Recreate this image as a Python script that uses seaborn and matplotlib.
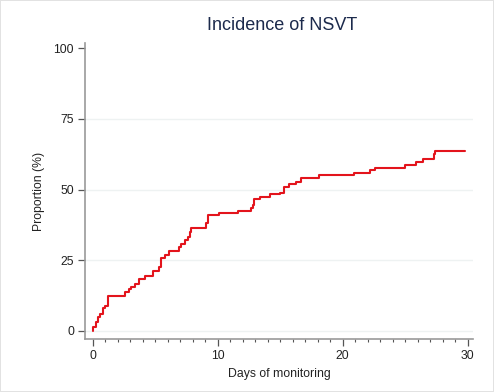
import matplotlib
matplotlib.use("Agg")
import matplotlib.pyplot as plt
from matplotlib.ticker import MultipleLocator
import seaborn as sns
import pandas as pd

# Kaplan-Meier style cumulative incidence (failure) curve
days = [0.0, 0.05, 0.25, 0.4, 0.6, 0.8, 1.0, 1.2, 2.6, 2.9, 3.1, 3.4, 3.7,
        4.2, 4.8, 5.3, 5.5, 5.8, 6.1, 6.9, 7.1, 7.4, 7.6, 7.8, 7.9, 9.1,
        9.2, 10.1, 11.6, 12.7, 12.8, 12.9, 13.4, 14.2, 15.0, 15.3, 15.7,
        16.3, 16.7, 18.1, 20.9, 22.2, 22.6, 25.0, 25.9, 26.4, 27.3, 27.4,
        29.8]
proportion = [0.0, 1.5, 3.3, 5.0, 6.0, 8.0, 9.0, 12.4, 13.9, 14.7, 15.7,
              16.6, 18.5, 19.4, 21.3, 22.7, 25.7, 27.0, 28.4, 29.8, 30.7,
              32.2, 33.1, 35.1, 36.5, 38.0, 41.0, 41.8, 42.5, 43.4, 44.5,
              46.5, 47.2, 48.4, 48.9, 51.0, 52.0, 52.8, 54.0, 55.1, 55.9,
              56.8, 57.7, 58.7, 59.8, 60.7, 62.5, 63.7, 63.7]

x_major = [0, 10, 20, 30]
y_major = [0, 25, 50, 75, 100]
title = "Incidence of NSVT"
xlabel = "Days of monitoring"
ylabel = "Proportion (%)"

sns.set_style("white")
plt.rcParams["font.family"] = ["Liberation Sans", "DejaVu Sans"]

df = pd.DataFrame({"days": days, "proportion": proportion})

fig = plt.figure(figsize=(4.94, 3.92), dpi=100)
fig.patch.set_facecolor("white")
fig.patch.set_edgecolor("#e2e2e2")
fig.patch.set_linewidth(1.2)
ax = fig.add_axes([85 / 494, (392 - 339) / 392, (473 - 85) / 494, (339 - 43) / 392])

for g in [0, 25, 50, 75]:
    ax.axhline(g, color="#eef2f2", lw=1.0, zorder=0)

sns.lineplot(data=df, x="days", y="proportion", ax=ax, color="#e3141c",
             lw=1.5, drawstyle="steps-post", estimator=None, sort=False)

ax.set_xlim(-0.6, 30.44)
ax.set_ylim(-2.83, 101.8)
ax.set_xticks(x_major)
ax.set_yticks(y_major)
ax.xaxis.set_minor_locator(MultipleLocator(1))
ax.tick_params(axis="both", which="major", direction="out", length=5,
               width=0.9, color="#555555", labelsize=8.8, labelcolor="#222222", pad=3)
ax.tick_params(axis="x", which="minor", direction="out", length=2.5,
               width=0.8, color="#555555", bottom=True)
ax.tick_params(left=True, bottom=True)

for s in ["top", "right"]:
    ax.spines[s].set_visible(False)
for s in ["left", "bottom"]:
    ax.spines[s].set_color("#999999")
    ax.spines[s].set_linewidth(1.2)

ax.set_xlabel(xlabel, fontsize=8.8, color="#222222", labelpad=4)
ax.set_ylabel(ylabel, fontsize=8.8, color="#222222", labelpad=6)
fig.text(282 / 494, 1 - 25 / 392, title, ha="center", va="center",
         fontsize=13, color="#1c2a4c")

fig.savefig("out.png", dpi=100, facecolor=fig.get_facecolor(),
            edgecolor=fig.get_edgecolor())
